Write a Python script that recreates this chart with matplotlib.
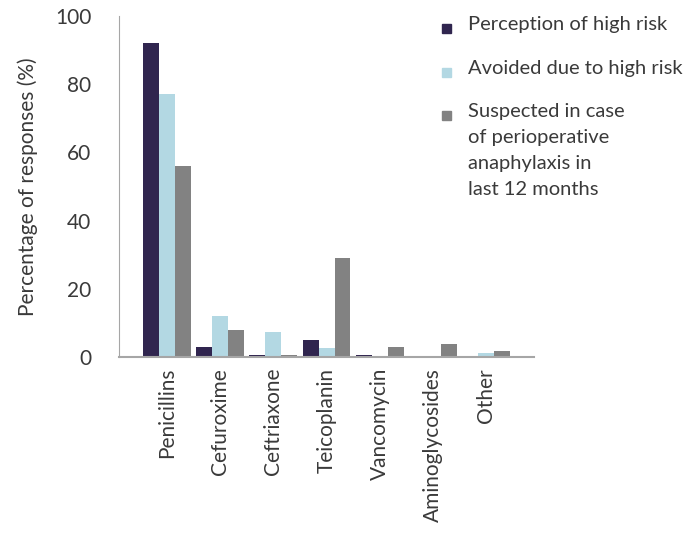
import numpy as np
import matplotlib.pyplot as plt
from matplotlib.patches import Rectangle

plt.rcParams["font.family"] = ["Lato", "DejaVu Sans"]

categories = ["Penicillins", "Cefuroxime", "Ceftriaxone", "Teicoplanin",
              "Vancomycin", "Aminoglycosides", "Other"]
perception = [92, 3, 0.4, 5, 0.6, 0.3, 0.3]
avoided = [77, 12, 7.4, 2.5, 0.1, 0.1, 1]
suspected = [56, 8, 0.6, 29, 3, 3.9, 1.6]

series_names = ["Perception of high risk",
                "Avoided due to high risk",
                "Suspected in case\nof perioperative\nanaphylaxis in\nlast 12 months"]
colors = ["#30254f", "#b3d8e3", "#828282"]
text_color = "#3a3a3a"

fig = plt.figure(figsize=(6.9, 5.35), dpi=100)
ax = fig.add_axes([0.1725, 0.333, 0.6015, 0.637])

x = np.arange(len(categories))
w = 0.3
for i, vals in enumerate([perception, avoided, suspected]):
    ax.bar(x + (i - 1) * w, vals, width=w, color=colors[i])

ax.set_xlim(-0.9, 6.9)
ax.set_ylim(0, 100)
ax.set_yticks([0, 20, 40, 60, 80, 100])
ax.set_xticks(x)
ax.set_xticklabels(categories, rotation=90, fontsize=15, color=text_color)
for lab in ax.get_yticklabels():
    lab.set_fontsize(15)
    lab.set_color(text_color)
ax.tick_params(axis="y", length=0, pad=20)
ax.tick_params(axis="x", length=0, pad=8)
ax.set_ylabel("Percentage of responses (%)", fontsize=15, color=text_color,
              labelpad=12)

for s in ["top", "right"]:
    ax.spines[s].set_visible(False)
ax.spines["left"].set_color("#a6a6a6")
ax.spines["left"].set_linewidth(0.8)
ax.spines["bottom"].set_color("#a6a6a6")
ax.spines["bottom"].set_linewidth(1.5)

# legend drawn by hand so the squares sit on the first line
y_tops = [28, 72, 115]
for name, col, yp in zip(series_names, colors, y_tops):
    fig.patches.append(Rectangle((442 / 690, 1 - (yp + 5) / 535), 9 / 690, 9 / 535,
                                 transform=fig.transFigure, color=col))
    fig.text(468 / 690, 1 - (yp - 12) / 535, name, fontsize=14.5, color=text_color,
             va="top", ha="left", linespacing=1.65)

fig.savefig("out.png", dpi=100)
